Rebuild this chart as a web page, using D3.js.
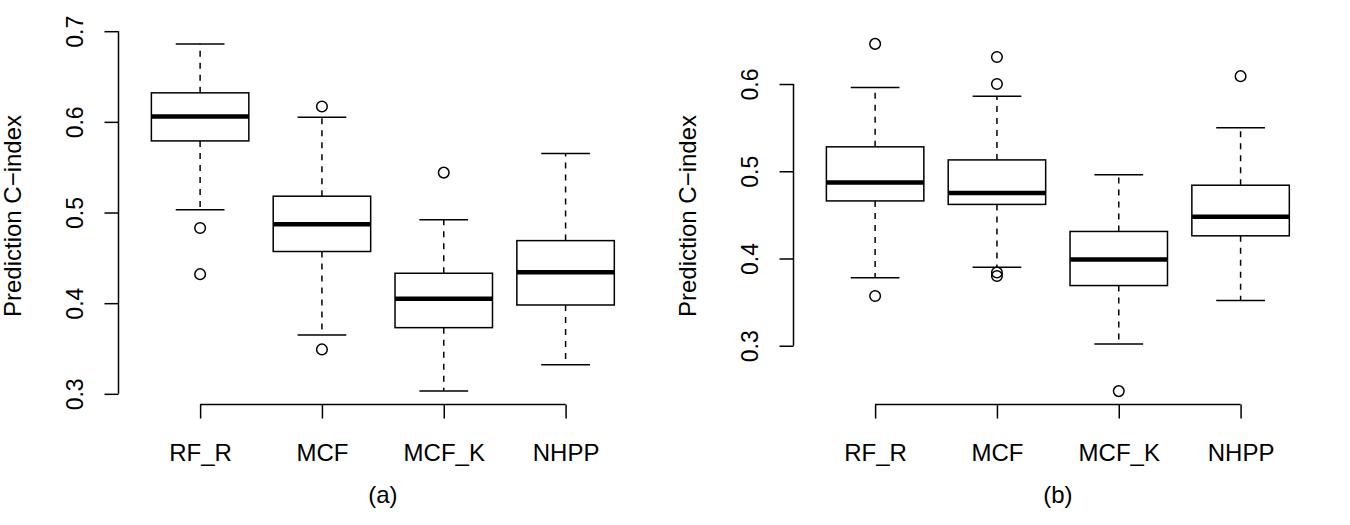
<!DOCTYPE html>
<html>
<head>
<meta charset="utf-8">
<script src="https://cdn.jsdelivr.net/npm/d3@7"></script>
<style>
  body { margin: 0; background: #fff; }
  svg { display: block; font-family: 'Liberation Sans', Arial, sans-serif; }
</style>
</head>
<body>
<div id="chart"></div>
<script>
const categories = ['RF_R', 'MCF', 'MCF_K', 'NHPP']

// panel (a)
const lowA = [0.503, 0.365, 0.303, 0.332]
const q1A = [0.579, 0.457, 0.373, 0.398]
const medA = [0.606, 0.487, 0.405, 0.434]
const q3A = [0.632, 0.518, 0.433, 0.469]
const highA = [0.686, 0.605, 0.492, 0.565]
const outA = [[0.483, 0.432], [0.617, 0.349], [0.544], []]
const ticksA = [0.3, 0.4, 0.5, 0.6, 0.7]

// panel (b)
const lowB = [0.378, 0.39, 0.302, 0.352]
const q1B = [0.466, 0.462, 0.369, 0.426]
const medB = [0.487, 0.475, 0.399, 0.448]
const q3B = [0.528, 0.513, 0.431, 0.484]
const highB = [0.596, 0.586, 0.496, 0.55]
const outB = [[0.646, 0.357], [0.631, 0.6, 0.384, 0.38], [0.248], [0.609]]
const ticksB = [0.3, 0.4, 0.5, 0.6]

const panels = [
  { label: '(a)', offset: 0, low: lowA, q1: q1A, med: medA, q3: q3A, high: highA, out: outA, ticks: ticksA },
  { label: '(b)', offset: 675, low: lowB, q1: q1B, med: medB, q3: q3B, high: highB, out: outB, ticks: ticksB }
]

const width = 1350
const height = 525

const svg = d3
  .select('#chart')
  .append('svg')
  .attr('width', width)
  .attr('height', height)

svg.append('rect').attr('width', width).attr('height', height).attr('fill', '#fff')

// R style: boxes sit at 1..n, xlim is 0.5..n+0.5
const xPositionScale = d3
  .scaleLinear()
  .domain([0.5, categories.length + 0.5])
  .range([139.2, 626.5])

const boxW = xPositionScale(1.4) - xPositionScale(0.6)
const capW = boxW / 2

panels.forEach(p => {
  const g = svg.append('g').attr('transform', `translate(${p.offset},0)`)

  // y limits: data range stretched by 4% like R
  const all = [...p.low, ...p.high, ...p.out.flat()]
  const [lo, hi] = d3.extent(all)
  const pad = (hi - lo) * 0.04
  const yPositionScale = d3
    .scaleLinear()
    .domain([lo - pad, hi + pad])
    .range([405, 30])

  categories.forEach((c, i) => {
    const cx = xPositionScale(i + 1)
    const bg = g.append('g').attr('stroke', '#000').attr('fill', 'none')

    // whiskers
    bg.append('line')
      .attr('x1', cx).attr('x2', cx)
      .attr('y1', yPositionScale(p.q3[i])).attr('y2', yPositionScale(p.high[i]))
      .attr('stroke-width', 1.5).attr('stroke-dasharray', '6,6')
    bg.append('line')
      .attr('x1', cx).attr('x2', cx)
      .attr('y1', yPositionScale(p.q1[i])).attr('y2', yPositionScale(p.low[i]))
      .attr('stroke-width', 1.5).attr('stroke-dasharray', '6,6')

    // caps
    bg.selectAll('.cap')
      .data([p.high[i], p.low[i]])
      .enter()
      .append('line')
      .attr('x1', cx - capW / 2).attr('x2', cx + capW / 2)
      .attr('y1', d => yPositionScale(d)).attr('y2', d => yPositionScale(d))
      .attr('stroke-width', 1.5)

    // box
    bg.append('rect')
      .attr('x', cx - boxW / 2)
      .attr('width', boxW)
      .attr('y', yPositionScale(p.q3[i]))
      .attr('height', yPositionScale(p.q1[i]) - yPositionScale(p.q3[i]))
      .attr('fill', '#fff')
      .attr('stroke-width', 1.5)

    // median
    bg.append('line')
      .attr('x1', cx - boxW / 2).attr('x2', cx + boxW / 2)
      .attr('y1', yPositionScale(p.med[i])).attr('y2', yPositionScale(p.med[i]))
      .attr('stroke-width', 4.5)

    // outliers
    bg.selectAll('circle')
      .data(p.out[i])
      .enter()
      .append('circle')
      .attr('cx', cx)
      .attr('cy', d => yPositionScale(d))
      .attr('r', 5.3)
      .attr('stroke-width', 1.5)
  })

  // y axis
  const yAxis = d3
    .axisLeft(yPositionScale)
    .tickValues(p.ticks)
    .tickSize(14)
    .tickFormat(d3.format('.1f'))

  const ya = g.append('g')
    .attr('class', 'axis y-axis')
    .attr('transform', 'translate(118.5,0)')
    .call(yAxis)
    .attr('font-family', null)
    .attr('font-size', 23)
  ya.select('.domain').remove()
  ya.append('line')
    .attr('x1', 0).attr('x2', 0)
    .attr('y1', yPositionScale(p.ticks[0]))
    .attr('y2', yPositionScale(p.ticks[p.ticks.length - 1]))
    .attr('stroke', '#000').attr('stroke-width', 1.5)
  ya.selectAll('.tick line').attr('stroke', '#000').attr('stroke-width', 1.5)
  ya.selectAll('.tick text')
    .attr('fill', '#000')
    .attr('transform', 'rotate(-90)')
    .attr('x', 0)
    .attr('y', -35.5)
    .attr('dy', null)
    .attr('text-anchor', 'middle')

  // x axis
  const xAxis = d3
    .axisBottom(xPositionScale)
    .tickValues(d3.range(1, categories.length + 1))
    .tickSize(14)
    .tickFormat(d => categories[d - 1])

  const xa = g.append('g')
    .attr('class', 'axis x-axis')
    .attr('transform', 'translate(0,404.5)')
    .call(xAxis)
    .attr('font-family', null)
    .attr('font-size', 24)
  xa.select('.domain').remove()
  xa.append('line')
    .attr('x1', xPositionScale(1))
    .attr('x2', xPositionScale(categories.length))
    .attr('y1', 0).attr('y2', 0)
    .attr('stroke', '#000').attr('stroke-width', 1.5)
  xa.selectAll('.tick line').attr('stroke', '#000').attr('stroke-width', 1.5)
  xa.selectAll('.tick text')
    .attr('fill', '#000')
    .attr('y', 56.5)
    .attr('dy', null)

  // axis title and panel label
  g.append('text')
    .text('Prediction C\u2212index')
    .attr('transform', 'translate(21,216) rotate(-90)')
    .attr('text-anchor', 'middle')
    .attr('font-size', 24)

  g.append('text')
    .text(p.label)
    .attr('x', (xPositionScale.range()[0] + xPositionScale.range()[1]) / 2)
    .attr('y', 503)
    .attr('text-anchor', 'middle')
    .attr('font-size', 24)
})
</script>
</body>
</html>
